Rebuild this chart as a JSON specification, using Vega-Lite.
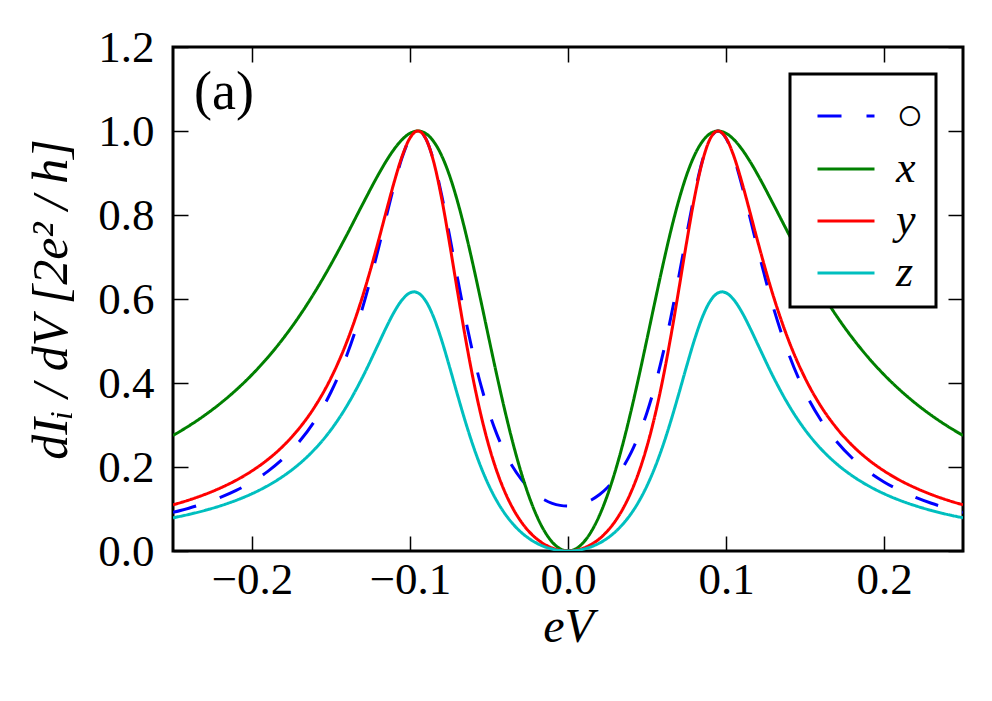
{
 "$schema": "https://vega.github.io/schema/vega-lite/v6.json",
 "width": 790, "height": 504,
 "autosize": {"type": "none"},
 "padding": {"left": 173, "top": 47, "right": 29, "bottom": 150},
 "background": "white",
 "config": {
   "view": {"stroke": "black", "strokeWidth": 3},
   "axis": {"grid": false, "domain": false, "tickColor": "black", "tickWidth": 1.5, "tickSize": -15,
            "labelFont": "Liberation Serif", "labelFontSize": 45, "labelColor": "black",
            "titleFont": "Liberation Serif", "titleFontSize": 48, "titleFontWeight": "normal", "titleColor": "black"},
   "legend": {"orient": "top-right", "offset": 27, "strokeColor": "black", "strokeWidth": 3, "fillColor": "white",
              "padding": 12, "labelFont": "Liberation Serif", "labelFontSize": 44, "labelFontStyle": "italic",
              "labelColor": "black", "symbolType": "stroke", "symbolSize": 3249, "symbolStrokeWidth": 3,
              "symbolOffset": 14, "labelOffset": 20, "rowPadding": -12, "titlePadding": 0}
 },
 "datasets": {
  "curves": [
   {"s":"○","e":-0.25,"v":0.0920},{"s":"○","e":-0.24,"v":0.1019},{"s":"○","e":-0.23,"v":0.1136},{"s":"○","e":-0.22,"v":0.1275},{"s":"○","e":-0.21,"v":0.1442},{"s":"○","e":-0.2,"v":0.1645},{"s":"○","e":-0.19,"v":0.1896},{"s":"○","e":-0.18,"v":0.2209},{"s":"○","e":-0.17,"v":0.2606},{"s":"○","e":-0.16,"v":0.3118},{"s":"○","e":-0.15,"v":0.3785},{"s":"○","e":-0.14,"v":0.4659},{"s":"○","e":-0.13,"v":0.5795},{"s":"○","e":-0.12,"v":0.7200},{"s":"○","e":-0.115,"v":0.7964},{"s":"○","e":-0.11,"v":0.8712},{"s":"○","e":-0.105,"v":0.9367},{"s":"○","e":-0.1,"v":0.9829},{"s":"○","e":-0.095,"v":1.0},{"s":"○","e":-0.09,"v":0.9818},{"s":"○","e":-0.085,"v":0.9286},{"s":"○","e":-0.08,"v":0.8480},{"s":"○","e":-0.075,"v":0.7515},{"s":"○","e":-0.07,"v":0.6508},{"s":"○","e":-0.065,"v":0.5546},{"s":"○","e":-0.06,"v":0.4680},{"s":"○","e":-0.055,"v":0.3930},{"s":"○","e":-0.05,"v":0.3299},{"s":"○","e":-0.045,"v":0.2776},{"s":"○","e":-0.04,"v":0.2349},{"s":"○","e":-0.035,"v":0.2004},{"s":"○","e":-0.03,"v":0.1728},{"s":"○","e":-0.025,"v":0.1511},{"s":"○","e":-0.02,"v":0.1344},{"s":"○","e":-0.015,"v":0.1221},{"s":"○","e":-0.01,"v":0.1136},{"s":"○","e":-0.005,"v":0.1086},{"s":"○","e":0,"v":0.1070},{"s":"○","e":0.005,"v":0.1086},{"s":"○","e":0.01,"v":0.1136},{"s":"○","e":0.015,"v":0.1221},{"s":"○","e":0.02,"v":0.1344},{"s":"○","e":0.025,"v":0.1511},{"s":"○","e":0.03,"v":0.1728},{"s":"○","e":0.035,"v":0.2004},{"s":"○","e":0.04,"v":0.2349},{"s":"○","e":0.045,"v":0.2776},{"s":"○","e":0.05,"v":0.3299},{"s":"○","e":0.055,"v":0.3930},{"s":"○","e":0.06,"v":0.4680},{"s":"○","e":0.065,"v":0.5546},{"s":"○","e":0.07,"v":0.6508},{"s":"○","e":0.075,"v":0.7515},{"s":"○","e":0.08,"v":0.8480},{"s":"○","e":0.085,"v":0.9286},{"s":"○","e":0.09,"v":0.9818},{"s":"○","e":0.095,"v":1.0},{"s":"○","e":0.1,"v":0.9829},{"s":"○","e":0.105,"v":0.9367},{"s":"○","e":0.11,"v":0.8712},{"s":"○","e":0.115,"v":0.7964},{"s":"○","e":0.12,"v":0.7200},{"s":"○","e":0.13,"v":0.5795},{"s":"○","e":0.14,"v":0.4659},{"s":"○","e":0.15,"v":0.3785},{"s":"○","e":0.16,"v":0.3118},{"s":"○","e":0.17,"v":0.2606},{"s":"○","e":0.18,"v":0.2209},{"s":"○","e":0.19,"v":0.1896},{"s":"○","e":0.2,"v":0.1645},{"s":"○","e":0.21,"v":0.1442},{"s":"○","e":0.22,"v":0.1275},{"s":"○","e":0.23,"v":0.1136},{"s":"○","e":0.24,"v":0.1019},{"s":"○","e":0.25,"v":0.0920},

   {"s":"x","e":-0.25,"v":0.2751},{"s":"x","e":-0.24,"v":0.2977},{"s":"x","e":-0.23,"v":0.3230},{"s":"x","e":-0.22,"v":0.3515},{"s":"x","e":-0.21,"v":0.3836},{"s":"x","e":-0.2,"v":0.4199},{"s":"x","e":-0.19,"v":0.4609},{"s":"x","e":-0.18,"v":0.5073},{"s":"x","e":-0.17,"v":0.5595},{"s":"x","e":-0.16,"v":0.6180},{"s":"x","e":-0.15,"v":0.6827},{"s":"x","e":-0.14,"v":0.7526},{"s":"x","e":-0.13,"v":0.8255},{"s":"x","e":-0.12,"v":0.8964},{"s":"x","e":-0.115,"v":0.9287},{"s":"x","e":-0.11,"v":0.9569},{"s":"x","e":-0.105,"v":0.9795},{"s":"x","e":-0.1,"v":0.9946},{"s":"x","e":-0.095,"v":1.0},{"s":"x","e":-0.09,"v":0.9940},{"s":"x","e":-0.085,"v":0.9748},{"s":"x","e":-0.08,"v":0.9416},{"s":"x","e":-0.075,"v":0.8942},{"s":"x","e":-0.07,"v":0.8333},{"s":"x","e":-0.065,"v":0.7610},{"s":"x","e":-0.06,"v":0.6798},{"s":"x","e":-0.055,"v":0.5933},{"s":"x","e":-0.05,"v":0.5048},{"s":"x","e":-0.045,"v":0.4177},{"s":"x","e":-0.04,"v":0.3350},{"s":"x","e":-0.035,"v":0.2590},{"s":"x","e":-0.03,"v":0.1914},{"s":"x","e":-0.025,"v":0.1333},{"s":"x","e":-0.02,"v":0.0854},{"s":"x","e":-0.015,"v":0.0480},{"s":"x","e":-0.01,"v":0.0213},{"s":"x","e":-0.005,"v":0.0053},{"s":"x","e":0,"v":0},{"s":"x","e":0.005,"v":0.0053},{"s":"x","e":0.01,"v":0.0213},{"s":"x","e":0.015,"v":0.0480},{"s":"x","e":0.02,"v":0.0854},{"s":"x","e":0.025,"v":0.1333},{"s":"x","e":0.03,"v":0.1914},{"s":"x","e":0.035,"v":0.2590},{"s":"x","e":0.04,"v":0.3350},{"s":"x","e":0.045,"v":0.4177},{"s":"x","e":0.05,"v":0.5048},{"s":"x","e":0.055,"v":0.5933},{"s":"x","e":0.06,"v":0.6798},{"s":"x","e":0.065,"v":0.7610},{"s":"x","e":0.07,"v":0.8333},{"s":"x","e":0.075,"v":0.8942},{"s":"x","e":0.08,"v":0.9416},{"s":"x","e":0.085,"v":0.9748},{"s":"x","e":0.09,"v":0.9940},{"s":"x","e":0.095,"v":1.0},{"s":"x","e":0.1,"v":0.9946},{"s":"x","e":0.105,"v":0.9795},{"s":"x","e":0.11,"v":0.9569},{"s":"x","e":0.115,"v":0.9287},{"s":"x","e":0.12,"v":0.8964},{"s":"x","e":0.13,"v":0.8255},{"s":"x","e":0.14,"v":0.7526},{"s":"x","e":0.15,"v":0.6827},{"s":"x","e":0.16,"v":0.6180},{"s":"x","e":0.17,"v":0.5595},{"s":"x","e":0.18,"v":0.5073},{"s":"x","e":0.19,"v":0.4609},{"s":"x","e":0.2,"v":0.4199},{"s":"x","e":0.21,"v":0.3836},{"s":"x","e":0.22,"v":0.3515},{"s":"x","e":0.23,"v":0.3230},{"s":"x","e":0.24,"v":0.2977},{"s":"x","e":0.25,"v":0.2751},

   {"s":"y","e":-0.25,"v":0.1100},{"s":"y","e":-0.24,"v":0.1213},{"s":"y","e":-0.23,"v":0.1345},{"s":"y","e":-0.22,"v":0.1501},{"s":"y","e":-0.21,"v":0.1685},{"s":"y","e":-0.2,"v":0.1908},{"s":"y","e":-0.19,"v":0.2178},{"s":"y","e":-0.18,"v":0.2511},{"s":"y","e":-0.17,"v":0.2927},{"s":"y","e":-0.16,"v":0.3451},{"s":"y","e":-0.15,"v":0.4120},{"s":"y","e":-0.14,"v":0.4978},{"s":"y","e":-0.13,"v":0.6065},{"s":"y","e":-0.12,"v":0.7381},{"s":"y","e":-0.115,"v":0.8092},{"s":"y","e":-0.11,"v":0.8786},{"s":"y","e":-0.105,"v":0.9397},{"s":"y","e":-0.1,"v":0.9835},{"s":"y","e":-0.095,"v":1.0},{"s":"y","e":-0.09,"v":0.9817},{"s":"y","e":-0.085,"v":0.9265},{"s":"y","e":-0.08,"v":0.8401},{"s":"y","e":-0.075,"v":0.7335},{"s":"y","e":-0.07,"v":0.6196},{"s":"y","e":-0.065,"v":0.5091},{"s":"y","e":-0.06,"v":0.4089},{"s":"y","e":-0.055,"v":0.3221},{"s":"y","e":-0.05,"v":0.2493},{"s":"y","e":-0.045,"v":0.1894},{"s":"y","e":-0.04,"v":0.1410},{"s":"y","e":-0.035,"v":0.1022},{"s":"y","e":-0.03,"v":0.0716},{"s":"y","e":-0.025,"v":0.0477},{"s":"y","e":-0.02,"v":0.0295},{"s":"y","e":-0.015,"v":0.0162},{"s":"y","e":-0.01,"v":0.0071},{"s":"y","e":-0.005,"v":0.0017},{"s":"y","e":0,"v":0},{"s":"y","e":0.005,"v":0.0017},{"s":"y","e":0.01,"v":0.0071},{"s":"y","e":0.015,"v":0.0162},{"s":"y","e":0.02,"v":0.0295},{"s":"y","e":0.025,"v":0.0477},{"s":"y","e":0.03,"v":0.0716},{"s":"y","e":0.035,"v":0.1022},{"s":"y","e":0.04,"v":0.1410},{"s":"y","e":0.045,"v":0.1894},{"s":"y","e":0.05,"v":0.2493},{"s":"y","e":0.055,"v":0.3221},{"s":"y","e":0.06,"v":0.4089},{"s":"y","e":0.065,"v":0.5091},{"s":"y","e":0.07,"v":0.6196},{"s":"y","e":0.075,"v":0.7335},{"s":"y","e":0.08,"v":0.8401},{"s":"y","e":0.085,"v":0.9265},{"s":"y","e":0.09,"v":0.9817},{"s":"y","e":0.095,"v":1.0},{"s":"y","e":0.1,"v":0.9835},{"s":"y","e":0.105,"v":0.9397},{"s":"y","e":0.11,"v":0.8786},{"s":"y","e":0.115,"v":0.8092},{"s":"y","e":0.12,"v":0.7381},{"s":"y","e":0.13,"v":0.6065},{"s":"y","e":0.14,"v":0.4978},{"s":"y","e":0.15,"v":0.4120},{"s":"y","e":0.16,"v":0.3451},{"s":"y","e":0.17,"v":0.2927},{"s":"y","e":0.18,"v":0.2511},{"s":"y","e":0.19,"v":0.2178},{"s":"y","e":0.2,"v":0.1908},{"s":"y","e":0.21,"v":0.1685},{"s":"y","e":0.22,"v":0.1501},{"s":"y","e":0.23,"v":0.1345},{"s":"y","e":0.24,"v":0.1213},{"s":"y","e":0.25,"v":0.1100},

   {"s":"z","e":-0.25,"v":0.0790},{"s":"z","e":-0.24,"v":0.0871},{"s":"z","e":-0.23,"v":0.0965},{"s":"z","e":-0.22,"v":0.1076},{"s":"z","e":-0.21,"v":0.1207},{"s":"z","e":-0.2,"v":0.1364},{"s":"z","e":-0.19,"v":0.1555},{"s":"z","e":-0.18,"v":0.1788},{"s":"z","e":-0.17,"v":0.2076},{"s":"z","e":-0.16,"v":0.2436},{"s":"z","e":-0.15,"v":0.2887},{"s":"z","e":-0.14,"v":0.3452},{"s":"z","e":-0.13,"v":0.4141},{"s":"z","e":-0.12,"v":0.4928},{"s":"z","e":-0.115,"v":0.5326},{"s":"z","e":-0.11,"v":0.5691},{"s":"z","e":-0.105,"v":0.5980},{"s":"z","e":-0.1,"v":0.6147},{"s":"z","e":-0.0975,"v":0.617},{"s":"z","e":-0.095,"v":0.6146},{"s":"z","e":-0.09,"v":0.5950},{"s":"z","e":-0.085,"v":0.5563},{"s":"z","e":-0.08,"v":0.5023},{"s":"z","e":-0.075,"v":0.4389},{"s":"z","e":-0.07,"v":0.3726},{"s":"z","e":-0.065,"v":0.3085},{"s":"z","e":-0.06,"v":0.2500},{"s":"z","e":-0.055,"v":0.1988},{"s":"z","e":-0.05,"v":0.1552},{"s":"z","e":-0.045,"v":0.1189},{"s":"z","e":-0.04,"v":0.0892},{"s":"z","e":-0.035,"v":0.0651},{"s":"z","e":-0.03,"v":0.0458},{"s":"z","e":-0.025,"v":0.0307},{"s":"z","e":-0.02,"v":0.0190},{"s":"z","e":-0.015,"v":0.0105},{"s":"z","e":-0.01,"v":0.0046},{"s":"z","e":-0.005,"v":0.0011},{"s":"z","e":0,"v":0},{"s":"z","e":0.005,"v":0.0011},{"s":"z","e":0.01,"v":0.0046},{"s":"z","e":0.015,"v":0.0105},{"s":"z","e":0.02,"v":0.0190},{"s":"z","e":0.025,"v":0.0307},{"s":"z","e":0.03,"v":0.0458},{"s":"z","e":0.035,"v":0.0651},{"s":"z","e":0.04,"v":0.0892},{"s":"z","e":0.045,"v":0.1189},{"s":"z","e":0.05,"v":0.1552},{"s":"z","e":0.055,"v":0.1988},{"s":"z","e":0.06,"v":0.2500},{"s":"z","e":0.065,"v":0.3085},{"s":"z","e":0.07,"v":0.3726},{"s":"z","e":0.075,"v":0.4389},{"s":"z","e":0.08,"v":0.5023},{"s":"z","e":0.085,"v":0.5563},{"s":"z","e":0.09,"v":0.5950},{"s":"z","e":0.095,"v":0.6146},{"s":"z","e":0.0975,"v":0.617},{"s":"z","e":0.1,"v":0.6147},{"s":"z","e":0.105,"v":0.5980},{"s":"z","e":0.11,"v":0.5691},{"s":"z","e":0.115,"v":0.5326},{"s":"z","e":0.12,"v":0.4928},{"s":"z","e":0.13,"v":0.4141},{"s":"z","e":0.14,"v":0.3452},{"s":"z","e":0.15,"v":0.2887},{"s":"z","e":0.16,"v":0.2436},{"s":"z","e":0.17,"v":0.2076},{"s":"z","e":0.18,"v":0.1788},{"s":"z","e":0.19,"v":0.1555},{"s":"z","e":0.2,"v":0.1364},{"s":"z","e":0.21,"v":0.1207},{"s":"z","e":0.22,"v":0.1076},{"s":"z","e":0.23,"v":0.0965},{"s":"z","e":0.24,"v":0.0871},{"s":"z","e":0.25,"v":0.0790}
  ],
  "ann": [{"e": -0.2177, "v": 1.0905, "t": "(a)"}]
 },
 "layer": [
  {
   "data": {"name": "curves"},
   "mark": {"type": "line", "interpolate": "monotone", "strokeWidth": 3, "clip": true},
   "encoding": {
     "x": {"field": "e", "type": "quantitative",
           "scale": {"domain": [-0.25, 0.25], "nice": false, "zero": false},
           "axis": {"orient": "bottom", "values": [-0.2, -0.1, 0, 0.1, 0.2], "format": ".1f", "title": "eV",
                    "titleFontStyle": "italic", "labelPadding": 21, "titlePadding": 1}},
     "y": {"field": "v", "type": "quantitative",
           "scale": {"domain": [0, 1.2], "nice": false},
           "axis": {"orient": "left", "values": [0, 0.2, 0.4, 0.6, 0.8, 1, 1.2], "format": ".1f",
                    "title": "dIᵢ / dV  [2e² / h]", "titleFontStyle": "italic", "titleFontSize": 50,
                    "labelPadding": 34, "titlePadding": 21}},
     "color": {"field": "s", "type": "nominal",
               "scale": {"domain": ["○", "x", "y", "z"], "range": ["#0000ff", "#008000", "#ff0000", "#00bfbf"]},
               "legend": {"title": null,
                          "encode": {"labels": {"update": {"fontSize": {"signal": "datum.label === '○' ? 46 : 44"}}}}}},
     "strokeDash": {"field": "s", "type": "nominal",
               "scale": {"domain": ["○", "x", "y", "z"], "range": [[24, 25], [1, 0], [1, 0], [1, 0]]},
               "legend": {"title": null}}
   }
  },
  {
   "data": {"name": "ann"},
   "mark": {"type": "text", "font": "Liberation Serif", "fontSize": 54, "align": "center", "baseline": "middle", "color": "black"},
   "encoding": {
     "x": {"field": "e", "type": "quantitative",
           "axis": {"orient": "top", "values": [-0.2, -0.1, 0, 0.1, 0.2], "labels": false, "title": null}},
     "y": {"field": "v", "type": "quantitative",
           "axis": {"orient": "right", "values": [0, 0.2, 0.4, 0.6, 0.8, 1, 1.2], "labels": false, "title": null}},
     "text": {"field": "t"}
   }
  }
 ],
 "resolve": {"axis": {"x": "independent", "y": "independent"}}
}
